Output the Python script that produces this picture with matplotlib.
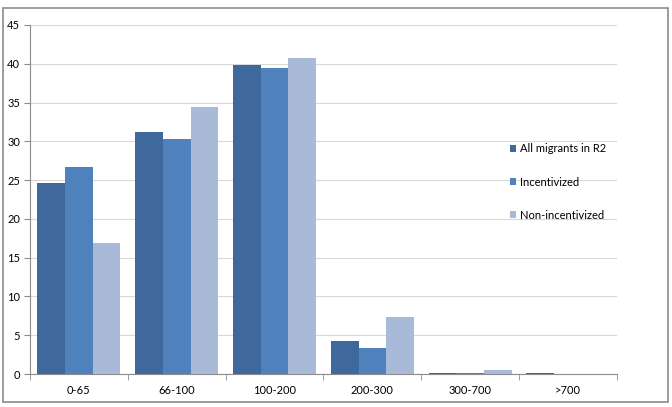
import numpy as np
import matplotlib.pyplot as plt
from matplotlib.patches import Rectangle

categories = ["0-65", "66-100", "100-200", "200-300", "300-700", ">700"]
all_migrants = [24.6, 31.2, 39.8, 4.2, 0.1, 0.1]
incentivized = [26.7, 30.3, 39.5, 3.3, 0.1, 0.0]
non_incentivized = [16.9, 34.4, 40.7, 7.4, 0.5, 0.0]
series_names = ["All migrants in R2", "Incentivized", "Non-incentivized"]
colors = ["#3F689C", "#4F81BD", "#A9B9D8"]

plt.rcParams['font.family'] = ['Lato', 'DejaVu Sans']

fig = plt.figure(figsize=(6.72, 4.07), dpi=100)

# outer chart frame
fig.patches.append(Rectangle((0.004, 0.012), 0.99, 0.968, transform=fig.transFigure,
                             fill=False, edgecolor="#8C8C8C", linewidth=1.2))

ax = fig.add_axes([0.0446, 0.081, 0.8734, 0.8576])

x = np.arange(len(categories))
w = 0.283
for i, (vals, name) in enumerate(zip([all_migrants, incentivized, non_incentivized], series_names)):
    ax.bar(x + (i - 1) * w, vals, width=w, color=colors[i], label=name, zorder=3)

ax.set_xlim(-0.5, len(categories) - 0.5)
ax.set_ylim(0, 45)
ax.set_yticks(np.arange(0, 46, 5))
ax.set_xticks(x)
ax.set_xticklabels(categories)
ax.set_xticks(np.arange(-0.5, len(categories), 1), minor=True)
ax.tick_params(axis="x", which="major", length=0, pad=8, labelsize=8)
ax.tick_params(axis="x", which="minor", length=4, color="#8C8C8C", direction="out")
ax.tick_params(axis="y", length=4, color="#8C8C8C", labelsize=8, pad=3)

ax.grid(axis="y", color="#D9D9D9", linewidth=0.8, zorder=0)
for s in ["top", "right"]:
    ax.spines[s].set_visible(False)
for s in ["left", "bottom"]:
    ax.spines[s].set_color("#8C8C8C")

ax.legend(loc="center left", bbox_to_anchor=(0.8, 0.55), frameon=False, fontsize=8,
          handlelength=0.6, handleheight=0.6, handletextpad=0.3, labelspacing=2.0)

fig.savefig("out.png", dpi=100)
